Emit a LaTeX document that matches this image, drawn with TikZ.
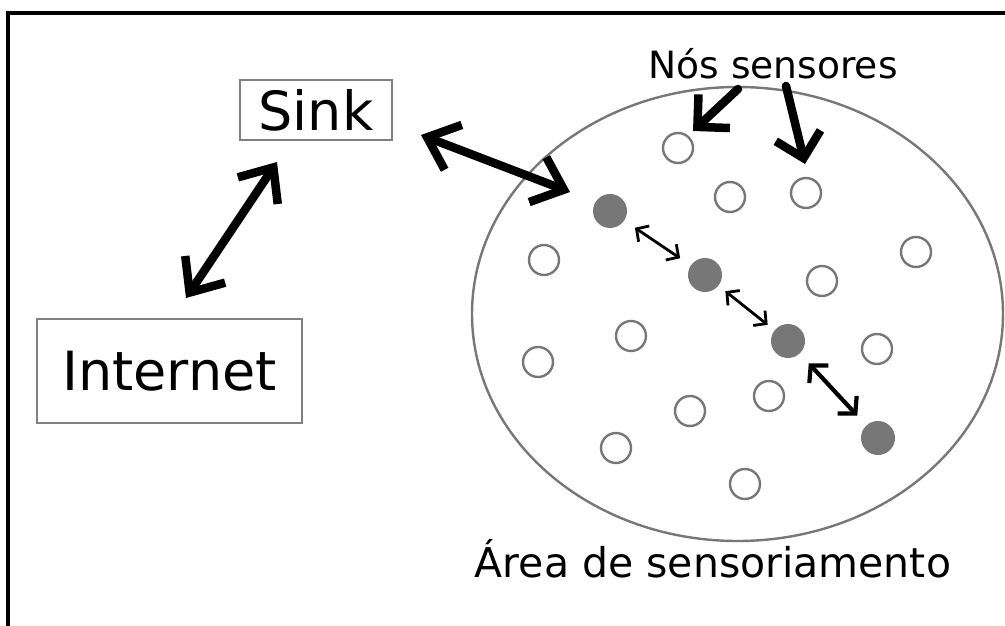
\documentclass[tikz,border=0pt]{standalone}
\usepackage{fontspec}
\setmainfont{DejaVu Sans}
\usetikzlibrary{arrows.meta,shapes.geometric}
\definecolor{nodegray}{RGB}{119,119,119}
\definecolor{boxgray}{RGB}{128,128,128}

\begin{document}
\begin{tikzpicture}[x=1pt,y=-1pt,
  box/.style={draw=boxgray, line width=2pt, inner sep=0pt, text=black},
  sensor/.style={circle, draw=nodegray, line width=2.4pt, minimum size=30pt,
    inner sep=0pt, outer sep=0pt, fill=white},
  active/.style={circle, fill=nodegray, minimum size=34pt, inner sep=0pt, outer sep=0pt},
  bigarrow/.style={line width=8.5pt, line cap=round, line join=round,
    {Straight Barb[length=28pt,width=48pt]}-{Straight Barb[length=28pt,width=48pt]}},
  onearrow/.style={line width=8.5pt, line cap=round, line join=round,
    -{Straight Barb[length=23pt,width=46pt]}},
  hop/.style={line width=2.8pt, line cap=round, line join=round,
    {Straight Barb[length=9pt,width=19pt]}-{Straight Barb[length=9pt,width=19pt]}},
  widehop/.style={line width=4.2pt, line cap=round, line join=round,
    {Straight Barb[length=12pt,width=26pt]}-{Straight Barb[length=12pt,width=26pt]}}
]
\clip (0,0) rectangle (1005,626);
\fill[white] (0,0) rectangle (1005,626);

% outer frame (only its top and left sides fall inside the page)
\draw[line width=4.5pt] (8,13) rectangle (1040,660);

% boxes
\node[box, minimum width=152pt, minimum height=60pt] (sink) at (316,110)
  {\fontsize{54}{60}\selectfont Sink};
\node[box, minimum width=265pt, minimum height=104pt] (internet) at (169.5,371)
  {\fontsize{54}{60}\selectfont Internet};

% sensing area
\node[draw=nodegray, line width=2.4pt, ellipse, minimum width=531pt,
  minimum height=454pt, inner sep=0pt] (area) at (737.5,314) {};

% labels
\node[anchor=base, inner sep=0pt] (lblnos) at (773,78)
  {\fontsize{37.6}{42}\selectfont Nós sensores};
\node[anchor=base, inner sep=0pt] (lblarea) at (713,577)
  {\fontsize{41}{46}\selectfont Área de sensoriamento};

% idle sensor nodes
\node[sensor] (s1)  at (678,148) {};
\node[sensor] (s2)  at (730,197) {};
\node[sensor] (s3)  at (806,193) {};
\node[sensor] (s4)  at (544,260) {};
\node[sensor] (s5)  at (822,281) {};
\node[sensor] (s6)  at (916,252) {};
\node[sensor] (s7)  at (631,336) {};
\node[sensor] (s8)  at (538,362) {};
\node[sensor] (s9)  at (877,349) {};
\node[sensor] (s10) at (769,396) {};
\node[sensor] (s11) at (690,411) {};
\node[sensor] (s12) at (616,448) {};
\node[sensor] (s13) at (745,484) {};

% active route
\node[active] (f1) at (610,211) {};
\node[active] (f2) at (705,275) {};
\node[active] (f3) at (788,341) {};
\node[active] (f4) at (878,438) {};

\draw[hop, shorten <=13pt, shorten >=13pt] (f1) -- (f2);
\draw[hop, shorten <=9pt, shorten >=9pt] (f2) -- (f3);
\draw[widehop, shorten <=13.5pt, shorten >=13.5pt] (f3) -- (f4);

% end points of the big arrows
\coordinate (sinkdown) at (277,162);
\coordinate (netup) at (186,298);
\coordinate (sinkright) at (421,135);
\coordinate (areain) at (570,192);
\coordinate (nosa) at (738,89);
\coordinate (nosb) at (786,86);
\coordinate (tipa) at (693,131);
\coordinate (tipb) at (805,164);

\draw[bigarrow] (netup) -- (sinkdown);
\draw[bigarrow] (sinkright) -- (areain);
\draw[onearrow] (nosa) -- (tipa);
\draw[onearrow] (nosb) -- (tipb);
\end{tikzpicture}
\end{document}
